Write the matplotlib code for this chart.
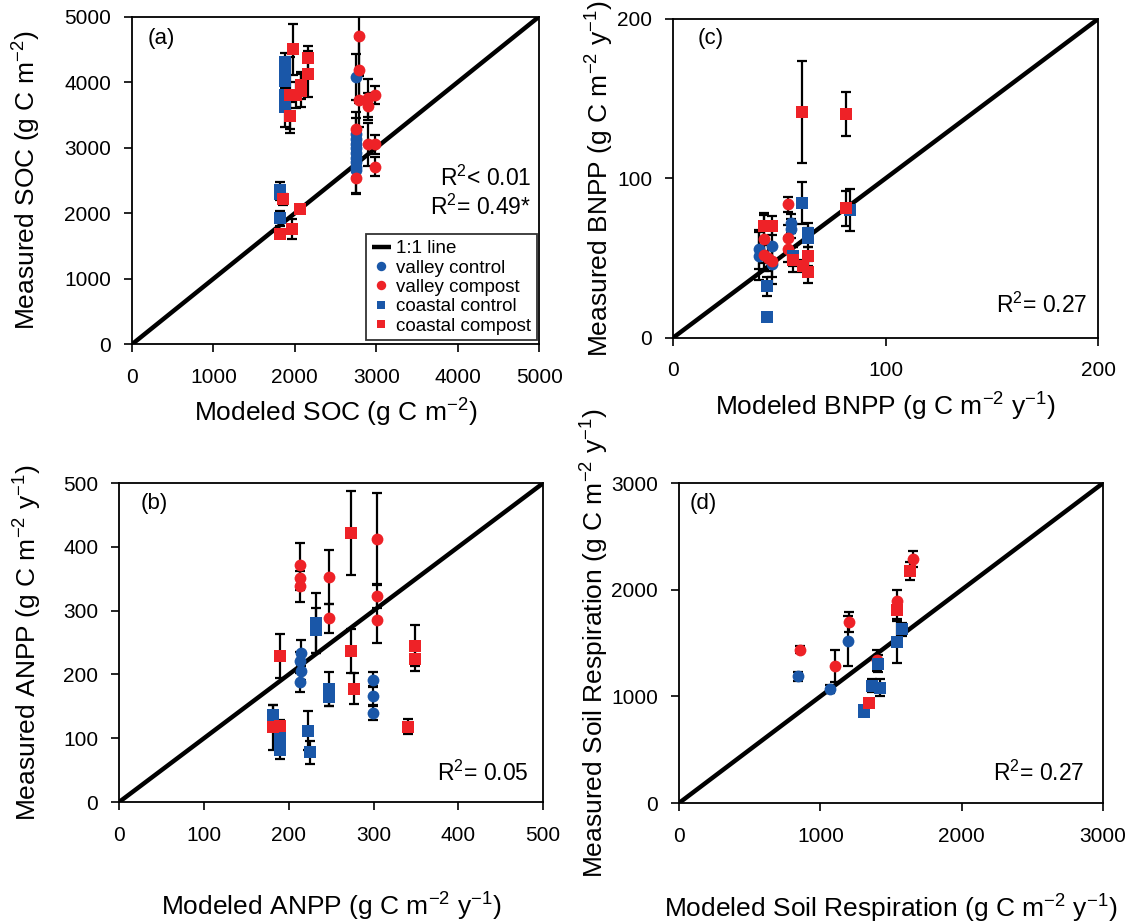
import matplotlib
matplotlib.use("Agg")
import matplotlib.pyplot as plt
import numpy as np

plt.rcParams['font.family'] = ['Liberation Sans', 'DejaVu Sans']
plt.rcParams['mathtext.default'] = 'regular'

BLUE = '#1a57a8'
RED = '#ee2227'

# ---- (a) SOC  (x, y, err) ----
soc_vc = [(2750, 4080, 350), (2750, 3210, 250), (2750, 3130, 150), (2750, 3050, 150),
          (2750, 2990, 150), (2750, 2920, 150), (2750, 2850, 150), (2750, 2780, 150),
          (2750, 2700, 150), (2750, 2660, 350)]
soc_vp = [(2790, 4700, 600), (2790, 4180, 500), (2790, 3720, 400), (2750, 3290, 250),
          (2750, 2540, 250), (2900, 3760, 290), (2900, 3630, 200), (2980, 3800, 140),
          (2900, 3050, 330), (2980, 3050, 150), (2980, 2710, 145)]
soc_cc = [(1880, 4300, 150), (1880, 4230, 100), (1880, 4150, 100), (1880, 4080, 100),
          (1880, 4020, 100), (1880, 3800, 100), (1880, 3620, 300),
          (1820, 2350, 130), (1820, 2300, 100), (1820, 1920, 110)]
soc_cp = [(1980, 4500, 390), (2160, 4370, 180), (2160, 4120, 350), (1940, 3800, 580),
          (2010, 3800, 200), (2080, 3870, 250), (2080, 3950, 200), (1940, 3490, 200),
          (1860, 2210, 90), (2060, 2060, 60), (1970, 1760, 150), (1820, 1680, 50)]

# ---- (b) ANPP ----
anpp_vc = [(215, 234, 20), (213, 221, 15), (215, 206, 15), (213, 188, 15),
           (299.5, 192, 12), (299.5, 167, 15), (299.5, 140, 11)]
anpp_vp = [(213, 372, 34), (213, 352, 20), (213, 338, 24), (247, 353, 42),
           (247, 288, 23), (304, 412, 72), (304, 323, 19), (304, 285, 36)]
anpp_cc = [(232, 280, 47), (232, 269, 36), (247, 177, 27), (247, 164, 13),
           (182, 137, 15), (190, 101, 12), (190, 82, 14), (222.5, 112, 30), (225.6, 78, 18)]
anpp_cp = [(274, 422, 66), (274, 237, 35), (277, 178, 24), (190, 229, 34),
           (349, 245, 32), (349, 224, 18), (341, 118, 12), (182, 117, 35), (190, 119, 10)]

# ---- (c) BNPP ----
bnpp_vc = [(40.4, 55.4, 12), (40.4, 51.2, 15), (46.7, 57.5, 10), (46.7, 46, 12),
           (55.3, 71.7, 6), (55.3, 68.3, 6)]
bnpp_vp = [(42.7, 61.7, 15), (42.7, 52.2, 10), (44.8, 50.2, 8), (46.7, 48.1, 10),
           (54.2, 83.6, 5), (54.2, 62.5, 8), (54.2, 55.4, 8)]
bnpp_cc = [(44, 32.4, 6), (44, 13.2, 2), (56.2, 51.2, 6), (60.8, 84.6, 13),
           (63.6, 65.8, 6), (63.6, 62.7, 6), (83, 80, 13)]
bnpp_cp = [(42.7, 70.4, 8), (46.7, 70.4, 6), (56.6, 49.1, 8), (60.8, 141.7, 32),
           (61, 45, 4), (63.6, 51.2, 6), (63.6, 41.4, 7), (81.4, 140.4, 14), (81.4, 81.1, 11)]

# ---- (d) soil respiration ----
rs_vc = [(840, 1188, 40), (1066, 1069, 40), (1193, 1519, 230)]
rs_vp = [(854, 1438, 30), (1106, 1284, 150), (1200, 1697, 90), (1401, 1338, 100),
         (1545, 1894, 106), (1653, 2284, 75)]
rs_cc = [(1307, 853, 35), (1311, 869, 30), (1368, 1100, 60), (1425, 1081, 80),
         (1406, 1306, 80), (1545, 1509, 200), (1580, 1628, 60)]
rs_cp = [(1347, 938, 40), (1545, 1806, 80), (1632, 2172, 85)]

panels = [
    dict(pos=[0.1164, 0.627, 0.359, 0.355], lim=5000, ticks=np.arange(0, 5001, 1000),
         data=[soc_vc, soc_vp, soc_cc, soc_cp], tag='(a)', tagxy=(0.039, 0.965),
         xl='Modeled SOC (g C m$^{-2}$)', yl='Measured SOC (g C m$^{-2}$)',
         xly=-0.21, ylx=-0.258,
         r2='R$^2$< 0.01\nR$^2$= 0.49*', r2xy=(0.98, 0.463)),
    dict(pos=[0.5935, 0.634, 0.375, 0.3456], lim=200, ticks=[0, 100, 200],
         data=[bnpp_vc, bnpp_vp, bnpp_cc, bnpp_cp], tag='(c)', tagxy=(0.059, 0.97),
         xl='Modeled BNPP (g C m$^{-2}$ y$^{-1}$)', yl='Measured BNPP (g C m$^{-2}$ y$^{-1}$)',
         xly=-0.215, ylx=-0.172,
         r2='R$^2$= 0.27', r2xy=(0.974, 0.103)),
    dict(pos=[0.105, 0.131, 0.374, 0.3456], lim=500, ticks=np.arange(0, 501, 100),
         data=[anpp_vc, anpp_vp, anpp_cc, anpp_cp], tag='(b)', tagxy=(0.052, 0.97),
         xl='Modeled ANPP (g C m$^{-2}$ y$^{-1}$)', yl='Measured ANPP (g C m$^{-2}$ y$^{-1}$)',
         xly=-0.33, ylx=-0.215,
         r2='R$^2$= 0.05', r2xy=(0.965, 0.091)),
    dict(pos=[0.5988, 0.130, 0.374, 0.3467], lim=3000, ticks=np.arange(0, 3001, 1000),
         data=[rs_vc, rs_vp, rs_cc, rs_cp], tag='(d)', tagxy=(0.026, 0.97),
         xl='Modeled Soil Respiration (g C m$^{-2}$ y$^{-1}$)',
         yl='Measured Soil Respiration (g C m$^{-2}$ y$^{-1}$)',
         xly=-0.33, ylx=-0.198,
         r2='R$^2$= 0.27', r2xy=(0.955, 0.094)),
]

styles = [('o', BLUE, 'valley control'), ('o', RED, 'valley compost'),
          ('s', BLUE, 'coastal control'), ('s', RED, 'coastal compost')]

fig = plt.figure(figsize=(11.34, 9.23), dpi=100)

for i, p in enumerate(panels):
    ax = fig.add_axes(p['pos'])
    lim = p['lim']
    ax.plot([0, lim], [0, lim], color='black', lw=3.2, zorder=2, label='1:1 line',
            solid_capstyle='butt')
    for pts, (mk, col, lab) in zip(p['data'], styles):
        arr = np.array(pts, dtype=float)
        ax.errorbar(arr[:, 0], arr[:, 1], yerr=arr[:, 2], fmt='none', ecolor='black',
                    elinewidth=1.6, capsize=3.5, capthick=1.6, zorder=3)
        ax.plot(arr[:, 0], arr[:, 1], linestyle='none', marker=mk, color=col,
                markersize=8.5 if mk == 'o' else 8, markeredgewidth=0, zorder=4, label=lab)
    ax.set_xlim(0, lim)
    ax.set_ylim(0, lim)
    ax.set_xticks(p['ticks'])
    ax.set_yticks(p['ticks'])
    ax.tick_params(direction='out', length=6, width=1.2, labelsize=15)
    ax.tick_params(axis='x', pad=11)
    ax.tick_params(axis='y', pad=9)
    for s in ax.spines.values():
        s.set_linewidth(1.3)
    ax.text(p['tagxy'][0], p['tagxy'][1], p['tag'], transform=ax.transAxes,
            fontsize=16, va='top')
    ax.text(p['r2xy'][0], p['r2xy'][1], p['r2'], transform=ax.transAxes, fontsize=16.5,
            ha='right', va='center', multialignment='right', linespacing=1.2)
    ax.set_xlabel(p['xl'], fontsize=19, va='center')
    ax.set_ylabel(p['yl'], fontsize=19, va='center')
    ax.xaxis.set_label_coords(0.5, p['xly'])
    ax.yaxis.set_label_coords(p['ylx'], 0.5)
    if i == 0:
        leg = ax.legend(loc='lower right', bbox_to_anchor=(0.995, 0.012), borderaxespad=0,
                        fontsize=13.5, frameon=True, fancybox=False, edgecolor='black',
                        handlelength=1.0, handletextpad=0.3, borderpad=0.3,
                        labelspacing=0.12, markerscale=0.8)
        leg.get_frame().set_linewidth(1.3)

fig.savefig('out.png', dpi=100)
